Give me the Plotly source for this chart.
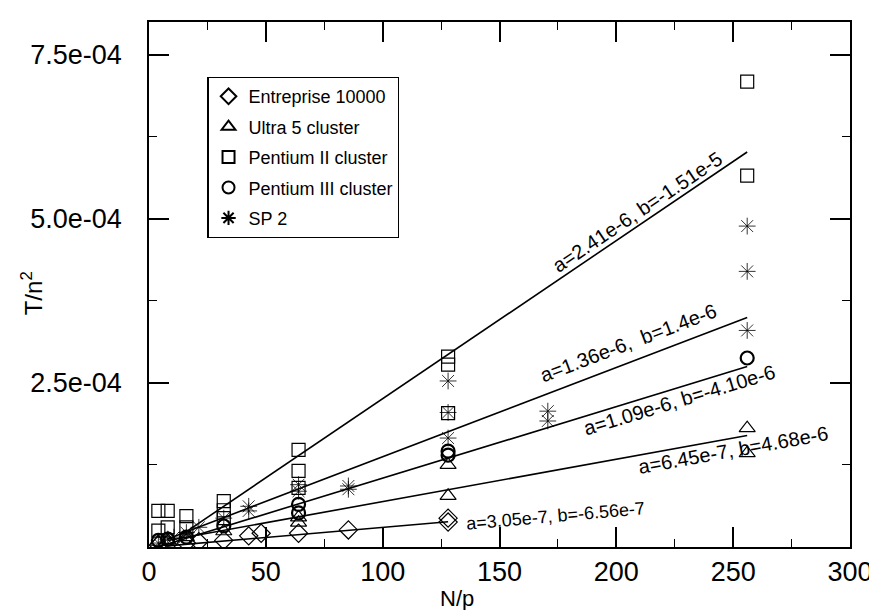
import plotly.graph_objects as go

# ---------------- data ----------------
series_names = ["Entreprise 10000", "Ultra 5 cluster", "Pentium II cluster",
                "Pentium III cluster", "SP 2"]

ent_x = [4, 8, 16, 21.33, 32, 42.67, 48, 64, 85.33, 128, 128]
ent_y = [3e-6, 4e-6, 6e-6, 8e-6, 1.0e-5, 1.7e-5, 2.1e-5, 2.1e-5, 2.6e-5, 4.4e-5, 3.8e-5]

ult_x = [4, 8, 16, 32, 64, 64, 128, 128, 256, 256]
ult_y = [8e-6, 1.0e-5, 1.5e-5, 2.4e-5, 3.7e-5, 4.5e-5, 1.25e-4, 7.8e-5, 1.81e-4, 1.43e-4]

p2_x = [4, 4, 8, 8, 16, 16, 32, 32, 32, 64, 64, 64, 128, 128, 128, 256, 256]
p2_y = [5.5e-5, 2.5e-5, 5.5e-5, 3.0e-5, 4.7e-5, 3.0e-5, 7.0e-5, 5.6e-5, 4.4e-5,
        1.48e-4, 1.16e-4, 9.0e-5, 2.90e-4, 2.78e-4, 2.04e-4, 7.09e-4, 5.66e-4]

p3_x = [4, 8, 16, 32, 64, 64, 128, 128, 256]
p3_y = [1.0e-5, 1.2e-5, 1.5e-5, 3.2e-5, 5.2e-5, 6.5e-5, 1.46e-4, 1.40e-4, 2.88e-4]

sp2_x = [4, 8, 10.67, 16, 21.33, 32, 42.67, 42.67, 64, 64, 85.33, 85.33,
         128, 128, 128, 170.67, 170.67, 256, 256, 256]
sp2_y = [6e-6, 1.2e-5, 1.5e-5, 2.2e-5, 3.0e-5, 4.4e-5, 5.5e-5, 6.2e-5, 8.5e-5, 9.5e-5,
         9.3e-5, 8.8e-5, 2.53e-4, 2.05e-4, 1.66e-4, 2.07e-4, 1.92e-4, 4.89e-4, 4.20e-4, 3.30e-4]

# linear fits  T/n^2 = a * N/p + b
fit_a = [3.05e-7, 6.45e-7, 2.41e-6, 1.09e-6, 1.36e-6]
fit_b = [-6.56e-7, 4.68e-6, -1.51e-5, -4.10e-6, 1.4e-6]
fit_x0 = [8, 8, 16, 8, 8]
fit_x1 = [128, 256, 256, 256, 256]
fit_labels = ["a=3.05e-7, b=-6.56e-7", "a=6.45e-7, b=4.68e-6", "a=2.41e-6, b=-1.51e-5",
              "a=1.09e-6, b=-4.10e-6", "a=1.36e-6,  b=1.4e-6"]

y_tickvals = [2.5e-4, 5.0e-4, 7.5e-4]
y_ticktext = ["2.5e-04", "5.0e-04", "7.5e-04"]
x_tickvals = [0, 50, 100, 150, 200, 250, 300]
x_ticktext = ["0", "50", "100", "150", "200", "250", "300"]

# ---------------- figure ----------------
FONT = "Liberation Sans, Arial, Helvetica, sans-serif"
fig = go.Figure()

xs = [ent_x, ult_x, p2_x, p3_x, sp2_x]
ys = [ent_y, ult_y, p2_y, p3_y, sp2_y]
symbols = ["diamond-open", "triangle-up-open", "square-open", "circle-open", "asterisk-open"]
sizes = [14, 14, 13, 13, 14]
lw = [1.2, 1.2, 1.2, 2.2, 0.8]

for i in range(5):
    fig.add_trace(go.Scatter(
        x=xs[i], y=ys[i], mode="markers", name=series_names[i],
        legendgroup=str(i),
        marker=dict(symbol=symbols[i], size=sizes[i], color="black",
                    line=dict(color="black", width=lw[i])),
    ))

for i in range(5):
    x0, x1 = fit_x0[i], fit_x1[i]
    fig.add_trace(go.Scatter(
        x=[x0, x1], y=[fit_a[i] * x0 + fit_b[i], fit_a[i] * x1 + fit_b[i]],
        mode="lines", line=dict(color="black", width=1.6), showlegend=False,
        hoverinfo="skip",
    ))

# fit labels: (x position, yshift, angle, font size)
label_pos = [(174, 0, -5, 18), (250, -12, -10.2, 20), (209, 14, -33.8, 20),
             (227, -13, -16.9, 20), (205, 20, -20.7, 20)]
for i in range(5):
    lx, ysh, ang, fs = label_pos[i]
    if i == 0:
        ly = 4.7e-5
    else:
        ly = fit_a[i] * lx + fit_b[i]
    fig.add_annotation(x=lx, y=ly, text=fit_labels[i], showarrow=False,
                       textangle=ang, yshift=ysh,
                       font=dict(family=FONT, size=fs, color="black"))

fig.add_annotation(xref="paper", yref="paper", x=(453 - 141) / 709, y=-0.098,
                   text="N/p", showarrow=False, yanchor="middle",
                   font=dict(family=FONT, size=22, color="black"))
fig.add_annotation(xref="paper", yref="paper", x=-0.19, y=(539 - 285) / 526,
                   text="T/n<sup>2</sup>", showarrow=False, textangle=-90,
                   font=dict(family=FONT, size=24, color="black"))

axis_common = dict(showline=True, linecolor="black", linewidth=1.5, mirror="allticks",
                   ticks="inside", ticklen=20, tickwidth=1.5, tickcolor="black",
                   showgrid=False, zeroline=False,
                   tickfont=dict(family=FONT, size=27, color="black"))

fig.update_xaxes(range=[0, 300], tickmode="array", tickvals=x_tickvals, ticktext=x_ticktext,
                 minor=dict(ticks="inside", ticklen=8, tick0=0, dtick=25, tickcolor="black",
                            tickwidth=1.2, showgrid=False),
                 **axis_common)
fig.update_yaxes(range=[0, 8.0e-4], tickmode="array", tickvals=y_tickvals, ticktext=y_ticktext,
                 minor=dict(ticks="inside", ticklen=8, tick0=0, dtick=1.25e-4, tickcolor="black",
                            tickwidth=1.2, showgrid=False),
                 ticklabelstandoff=20,
                 **axis_common)

fig.update_layout(
    width=877, height=610,
    margin=dict(l=141, r=27, t=13, b=71),
    paper_bgcolor="white", plot_bgcolor="white",
    font=dict(family=FONT, color="black"),
    legend=dict(x=(200 - 141) / 709, y=(539 - 68) / 526, xanchor="left", yanchor="top",
                bordercolor="black", borderwidth=1.2, bgcolor="white",
                font=dict(family=FONT, size=18, color="black"),
                tracegroupgap=4, itemsizing="constant"),
    showlegend=True,
)

fig.write_html("out.html")
